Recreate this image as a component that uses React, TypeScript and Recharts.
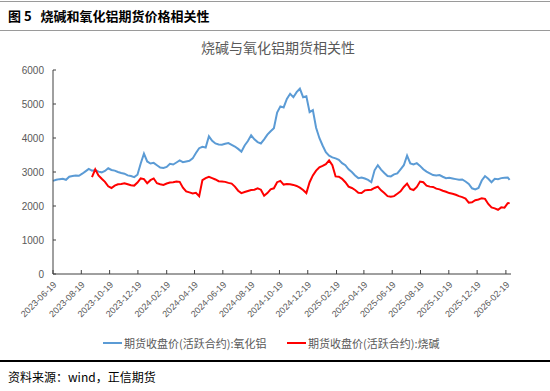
import { LineChart, Line, XAxis, YAxis } from 'recharts';

// weekly samples
const DATES = [
  '2023-06-19', '2023-06-26', '2023-07-03', '2023-07-10', '2023-07-17', '2023-07-24', '2023-07-31', '2023-08-07',
  '2023-08-14', '2023-08-21', '2023-08-28', '2023-09-04', '2023-09-11', '2023-09-18', '2023-09-25', '2023-10-02',
  '2023-10-09', '2023-10-16', '2023-10-23', '2023-10-30', '2023-11-06', '2023-11-13', '2023-11-20', '2023-11-27',
  '2023-12-04', '2023-12-11', '2023-12-18', '2023-12-25', '2024-01-01', '2024-01-08', '2024-01-15', '2024-01-22',
  '2024-01-29', '2024-02-05', '2024-02-12', '2024-02-19', '2024-02-26', '2024-03-04', '2024-03-11', '2024-03-18',
  '2024-03-25', '2024-04-01', '2024-04-08', '2024-04-15', '2024-04-22', '2024-04-29', '2024-05-06', '2024-05-13',
  '2024-05-20', '2024-05-27', '2024-06-03', '2024-06-10', '2024-06-17', '2024-06-24', '2024-07-01', '2024-07-08',
  '2024-07-15', '2024-07-22', '2024-07-29', '2024-08-05', '2024-08-12', '2024-08-19', '2024-08-26', '2024-09-02',
  '2024-09-09', '2024-09-16', '2024-09-23', '2024-09-30', '2024-10-07', '2024-10-14', '2024-10-21', '2024-10-28',
  '2024-11-04', '2024-11-11', '2024-11-18', '2024-11-25', '2024-12-02', '2024-12-09', '2024-12-16', '2024-12-23',
  '2024-12-30', '2025-01-06', '2025-01-13', '2025-01-20', '2025-01-27', '2025-02-03', '2025-02-10', '2025-02-17',
  '2025-02-24', '2025-03-03', '2025-03-10', '2025-03-17', '2025-03-24', '2025-03-31', '2025-04-07', '2025-04-14',
  '2025-04-21', '2025-04-28', '2025-05-05', '2025-05-12', '2025-05-19', '2025-05-26', '2025-06-02', '2025-06-09',
  '2025-06-16', '2025-06-23', '2025-06-30', '2025-07-07', '2025-07-14', '2025-07-21', '2025-07-28', '2025-08-04',
  '2025-08-11', '2025-08-18', '2025-08-25', '2025-09-01', '2025-09-08', '2025-09-15', '2025-09-22', '2025-09-29',
  '2025-10-06', '2025-10-13', '2025-10-20', '2025-10-27', '2025-11-03', '2025-11-10', '2025-11-17', '2025-11-24',
  '2025-12-01', '2025-12-08', '2025-12-15', '2025-12-22', '2025-12-29', '2026-01-05', '2026-01-12', '2026-01-19',
  '2026-01-26', '2026-02-02', '2026-02-09', '2026-02-16', '2026-02-23', '2026-02-27',
];

// 期货收盘价(活跃合约):氧化铝
const ALUMINA = [
  2740, 2770, 2790, 2800, 2770, 2860, 2880, 2900, 2890, 2950, 3020, 3090, 3040, 3060, 3010, 2990,
  3030, 3110, 3060, 3040, 3000, 2970, 2950, 2900, 2880, 2850, 2920, 3250, 3540, 3310, 3250, 3270,
  3200, 3130, 3120, 3150, 3240, 3220, 3280, 3340, 3290, 3310, 3330, 3400, 3560, 3700, 3740, 3720,
  4050, 3920, 3840, 3810, 3800, 3830, 3850, 3800, 3750, 3680, 3600, 3780, 3910, 4080, 3960, 3880,
  3840, 3960, 4100, 4200, 4290, 4750, 4930, 4900, 5150, 5300, 5200, 5350, 5450, 5200, 5230, 4760,
  4820, 4300, 4000, 3780, 3580, 3480, 3430, 3400, 3360, 3260, 3200, 3080, 3000, 2900, 2820, 2840,
  2810, 2770, 2700, 3050, 3200, 3070, 2970, 2880, 2870, 2930, 2960, 3080, 3200, 3480, 3250, 3220,
  3260, 3180, 3080, 3010, 2960, 2910, 2900, 2910, 2860, 2820, 2830, 2810, 2790, 2770, 2780, 2720,
  2650, 2520, 2490, 2530, 2750, 2880, 2800, 2700, 2800, 2790, 2820, 2830, 2840, 2770,
];

// 期货收盘价(活跃合约):烧碱
const CAUSTIC = [
  null, null, null, null, null, null, null, null, null, null, null, null, 2850, 3080, 2900, 2800,
  2710, 2580, 2530, 2600, 2640, 2650, 2670, 2640, 2610, 2600, 2690, 2810, 2790, 2670, 2760, 2810,
  2670, 2640, 2620, 2660, 2690, 2700, 2720, 2710, 2540, 2430, 2400, 2370, 2390, 2290, 2760, 2820,
  2860, 2820, 2780, 2730, 2720, 2710, 2680, 2660, 2570, 2450, 2380, 2410, 2440, 2470, 2480, 2520,
  2480, 2300, 2380, 2490, 2520, 2700, 2740, 2630, 2650, 2640, 2620, 2590, 2540, 2470, 2380, 2700,
  2900, 3040, 3140, 3180, 3230, 3340, 3200, 2870, 2860, 2800, 2700, 2570, 2530, 2470, 2390, 2380,
  2460, 2470, 2480, 2530, 2570, 2460, 2380, 2290, 2270, 2290, 2360, 2430, 2560, 2660, 2500, 2470,
  2560, 2720, 2700, 2600, 2570, 2560, 2510, 2490, 2450, 2420, 2380, 2360, 2330, 2290, 2260, 2220,
  2100, 2110, 2170, 2190, 2230, 2210, 2060, 1960, 1930, 1890, 1960, 1950, 2080, 2090,
];

const X_TICKS = [
  '2023-06-19', '2023-08-19', '2023-10-19', '2023-12-19', '2024-02-19', '2024-04-19', '2024-06-19',
  '2024-08-19', '2024-10-19', '2024-12-19', '2025-02-19', '2025-04-19', '2025-06-19', '2025-08-19',
  '2025-10-19', '2025-12-19', '2026-02-19',
];
const Y_TICKS = [0, 1000, 2000, 3000, 4000, 5000, 6000];

const BLUE = '#5b9bd5';
const RED = '#ff0000';
const GREY = '#595959';
const CJK = '"Noto Sans CJK SC", sans-serif';
const NUM = '"Liberation Sans", Arial, sans-serif';

const toT = (d: string) => Date.parse(d + 'T00:00:00Z');

const data = DATES.map((d, i) => ({ t: toT(d), alumina: ALUMINA[i], caustic: CAUSTIC[i] }));
const xTickValues = X_TICKS.map(toT);

const XTick = ({ x, y, payload }: any) => {
  const label = X_TICKS[xTickValues.indexOf(payload.value)] ?? '';
  const ax = x + 2;
  const ay = y + 9;
  return (
    <g>
      <line x1={x} y1={y} x2={x} y2={y - 4} stroke="#404040" />
      <text x={ax} y={ay} textAnchor="end" dominantBaseline="central" transform={`rotate(-45 ${ax} ${ay})`}
        fontSize={9} fill={GREY} fontFamily={NUM}>
        {label}
      </text>
    </g>
  );
};

const YTick = ({ x, y, payload }: any) => (
  <g>
    <line x1={x} y1={y} x2={x + 3} y2={y} stroke="#404040" />
    <text x={x - 9} y={y} textAnchor="end" dominantBaseline="central" fontSize={10} fill={GREY} fontFamily={NUM}>
      {payload.value}
    </text>
  </g>
);

export default function App() {
  return (
    <div style={{ position: 'fixed', left: 0, top: 0, width: 550, height: 391, background: '#fff', fontFamily: CJK }}>
      <div style={{ position: 'absolute', left: 0, top: 1, width: 550, height: 1, background: '#9a9a9a' }} />
      <div style={{ position: 'absolute', left: 8, top: 6, fontSize: 13, fontWeight: 'bold', color: '#000', whiteSpace: 'nowrap' }}>
        图 5&nbsp;&nbsp;&nbsp;烧碱和氧化铝期货价格相关性
      </div>
      <div style={{ position: 'absolute', left: 0, top: 30, width: 550, height: 1, background: '#9a9a9a' }} />
      <div style={{ position: 'absolute', left: 0, top: 37, width: 556, textAlign: 'center', fontSize: 14, color: GREY }}>
        烧碱与氧化铝期货相关性
      </div>

      <div style={{ position: 'absolute', left: 0, top: 0 }}>
        <LineChart width={550} height={391} data={data} margin={{ top: 70, right: 39, bottom: 57, left: 8 }}>
          <XAxis
            dataKey="t"
            type="number"
            scale="linear"
            domain={[toT('2023-06-19'), toT('2026-03-02')]}
            ticks={xTickValues}
            interval={0}
            tickSize={0}
            tickMargin={0}
            height={60}
            axisLine={{ stroke: '#404040' }}
            tickLine={false}
            tick={<XTick />}
          />
          <YAxis
            domain={[0, 6000]}
            ticks={Y_TICKS}
            interval={0}
            width={45}
            tickSize={0}
            tickMargin={0}
            axisLine={{ stroke: '#404040' }}
            tickLine={false}
            tick={<YTick />}
          />
          <Line dataKey="alumina" stroke={BLUE} strokeWidth={2} dot={false} isAnimationActive={false} />
          <Line dataKey="caustic" stroke={RED} strokeWidth={2} dot={false} isAnimationActive={false} />
        </LineChart>
      </div>

      <div style={{ position: 'absolute', left: 103, top: 342, width: 19, height: 2, background: BLUE }} />
      <div style={{ position: 'absolute', left: 124, top: 335, fontSize: 11, color: GREY, whiteSpace: 'nowrap' }}>
        期货收盘价(活跃合约):氧化铝
      </div>
      <div style={{ position: 'absolute', left: 287, top: 342, width: 19, height: 2, background: RED }} />
      <div style={{ position: 'absolute', left: 308, top: 335, fontSize: 11, color: GREY, whiteSpace: 'nowrap' }}>
        期货收盘价(活跃合约):烧碱
      </div>

      <div style={{ position: 'absolute', left: 0, top: 360, width: 550, height: 2, background: '#000' }} />
      <div style={{ position: 'absolute', left: 8, top: 368, fontSize: 12, color: '#000', whiteSpace: 'nowrap' }}>
        资料来源：wind，正信期货
      </div>
    </div>
  );
}
